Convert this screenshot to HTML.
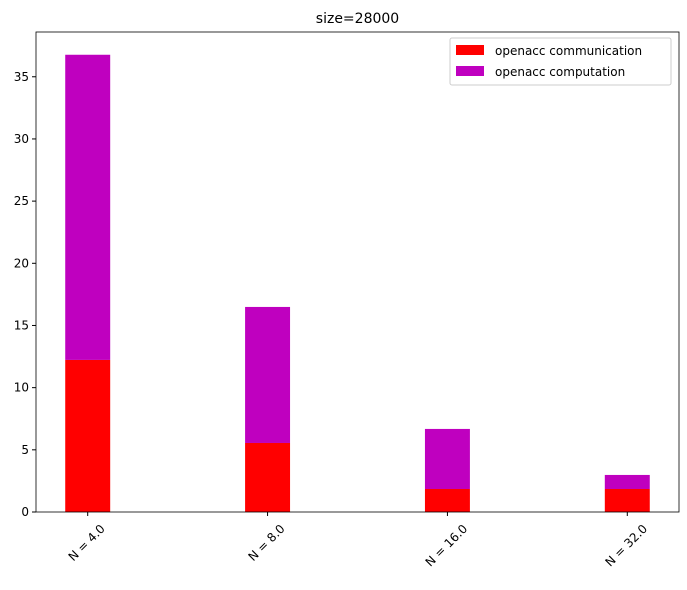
<!DOCTYPE html>
<html><head><meta charset="utf-8"><style>
body{margin:0;background:#fff;font-family:"Liberation Sans","DejaVu Sans",sans-serif}
svg text{font-family:"DejaVu Sans","Liberation Sans",sans-serif}
</style></head><body>
<svg id="chart" width="687" height="585" xmlns="http://www.w3.org/2000/svg">
<rect width="687" height="585" fill="#fff"/>
<text x="357.5" y="23" font-size="14" text-anchor="middle">size=28000</text>
<g id="bars"></g>
<g id="axes"></g>
<g>
<rect x="450" y="38" width="221" height="47" fill="#fff" stroke="#ccc" rx="2"/>
<rect x="456" y="45" width="28" height="10" fill="#ff0000"/>
<text x="495" y="55" font-size="12">openacc communication</text>
<rect x="456" y="66" width="28" height="10" fill="#bf00bf"/>
<text x="495" y="76" font-size="12">openacc computation</text>
</g>
</svg>
<script>
const categories = ["N = 4.0","N = 8.0","N = 16.0","N = 32.0"];
const communication = [12.23, 5.55, 1.85, 1.85];
const computation = [24.54, 10.94, 4.83, 1.13];
const yTicks = [0,5,10,15,20,25,30,35];

const L=36,R=679,T=32,B=512;
const ns="http://www.w3.org/2000/svg";
const xmin=-0.2875,xmax=categories.length-1+0.2875;
const ymax=38.6;
function xs(v){return L+(v-xmin)/(xmax-xmin)*(R-L);}
function ys(v){return B-v/ymax*(B-T);}
function mk(t,a,p){const e=document.createElementNS(ns,t);for(const k in a)e.setAttribute(k,a[k]);p.appendChild(e);return e;}
const bars=document.getElementById('bars'),axes=document.getElementById('axes');
const w=xs(0.125)-xs(-0.125);
categories.forEach((c,i)=>{
  const x=xs(i)-w/2;
  const r1=mk('rect',{x:x,y:ys(communication[i]),width:w,height:ys(0)-ys(communication[i]),fill:'#ff0000'},bars);
  
  
  const top=communication[i]+computation[i];
  const r2=mk('rect',{x:x,y:ys(top),width:w,height:ys(communication[i])-ys(top),fill:'#bf00bf'},bars);
  
  
  const tk=mk('line',{x1:xs(i),x2:xs(i),y1:B,y2:B+4,stroke:'#000'},axes);
  
  
  const len=c.length*7.6;
  const tx=xs(i)-1,ty=B+4+len*0.3536+8;
  const t=mk('text',{x:tx,y:ty+4,'font-size':12,'text-anchor':'middle',transform:`rotate(-45 ${tx} ${ty})`},axes);
  t.textContent=c;
  
  
});
yTicks.forEach(v=>{
  const tk=mk('line',{x1:L-4,x2:L,y1:ys(v),y2:ys(v),stroke:'#000'},axes);
  
  
  const t=mk('text',{x:L-7,y:ys(v)+4,'font-size':12,'text-anchor':'end'},axes);
  t.textContent=v;
  
  
});
const fr=mk('rect',{x:L,y:T,width:R-L,height:B-T,fill:'none',stroke:'#000','stroke-width':0.8},axes);


</script>
</body></html>
